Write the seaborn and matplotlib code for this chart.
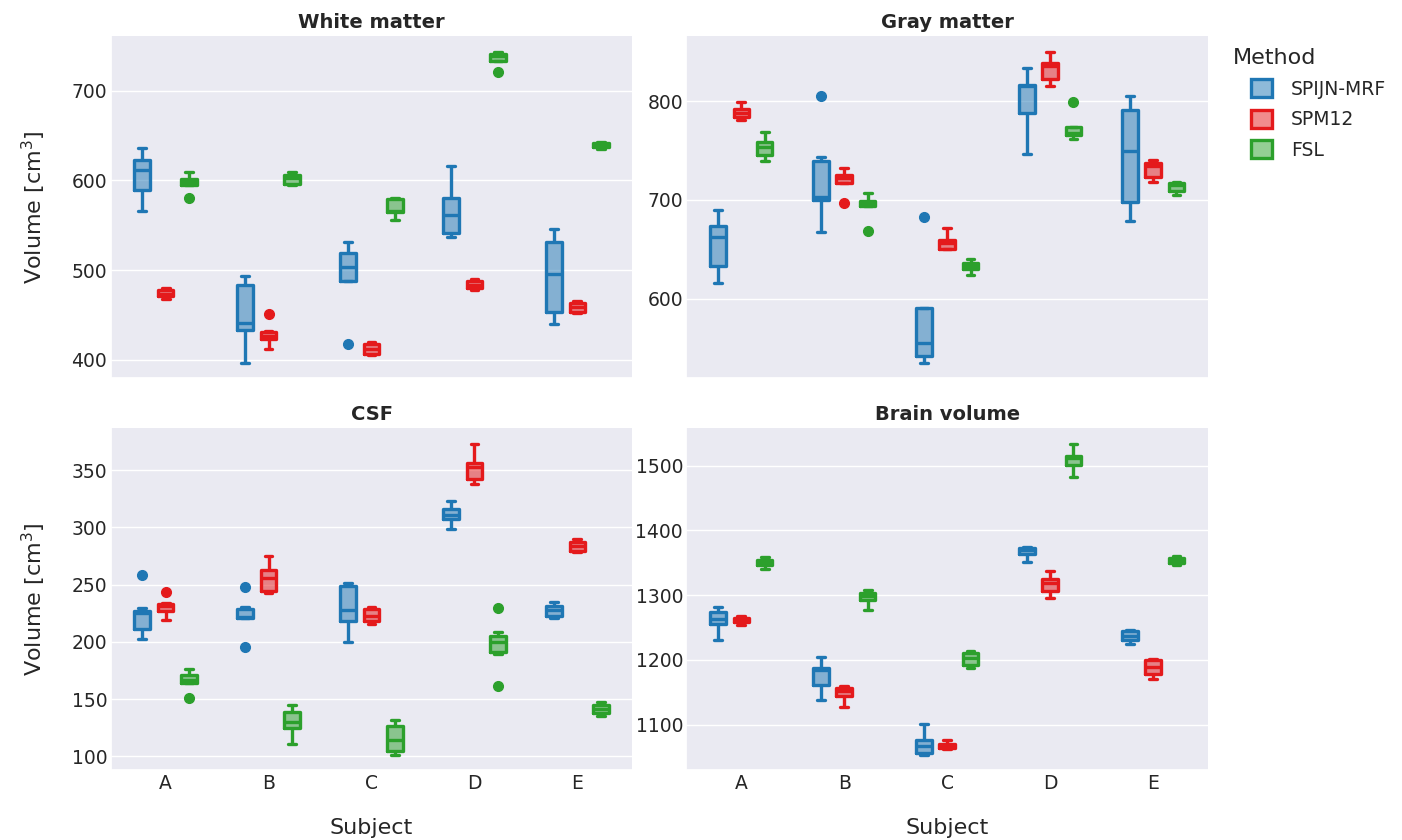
# Tissue volumes per subject and segmentation method

import pandas as pd
import matplotlib.pyplot as plt
import matplotlib.ticker as mticker
import seaborn as sns

subjects = ["A", "B", "C", "D", "E"]
methods = ["SPIJN-MRF", "SPM12", "FSL"]
tissues = ["White matter", "Gray matter", "CSF", "Brain volume"]
colors = ["#1f77b4", "#e41a1c", "#2ca02c"]

# repeated scans per subject, one list per subject A..E
wm_spijn = [[566, 578, 589, 600, 612, 618, 623, 630, 636],
            [397, 420, 433, 437, 441, 462, 483, 489, 494],
            [418, 488, 488, 496, 504, 512, 519, 526, 532],
            [537, 540, 542, 552, 561, 571, 581, 598, 616],
            [440, 447, 454, 475, 496, 514, 532, 539, 546]]
wm_spm = [[468, 470, 471, 473, 474, 476, 478, 479, 480],
          [412, 418, 423, 425, 427, 429, 431, 432, 451],
          [405, 405, 406.5, 409, 412, 415, 417.5, 419, 420.5],
          [478.5, 479, 480, 482, 483.5, 486, 488, 489, 490.5],
          [452.5, 453.5, 454, 456, 458.5, 461, 463.5, 465, 466]]
wm_fsl = [[580, 595, 595.5, 597, 598, 600, 601.5, 605, 609],
          [595, 595.5, 596, 599, 603, 604.5, 606, 608, 609.5],
          [556, 560, 564.5, 565.5, 566.5, 572, 579, 579.5, 580],
          [720.5, 733.5, 733.5, 736, 738.5, 739.5, 740.5, 742, 743.5],
          [635, 636, 637, 638, 639.5, 640.5, 641.5, 642, 643]]

gm_spijn = [[616, 624, 633, 648, 662, 668, 673, 682, 690],
            [667, 684, 699.5, 701, 703, 720, 739, 743, 805.5],
            [535, 538, 542, 548, 554.5, 572, 590.5, 590.5, 683],
            [746.5, 768, 787.5, 801, 815, 816, 816.5, 825, 833],
            [679, 688, 697.5, 723, 749, 770, 790.5, 798, 805.5]]
gm_spm = [[781, 782.5, 784, 786, 788, 790, 791.5, 795, 799],
          [697, 717, 717, 719.5, 722, 724, 725.5, 729, 732],
          [650, 650, 650.5, 653.5, 656.5, 658, 659, 665, 671],
          [815.5, 819, 822.5, 829, 835, 837, 838.5, 844, 850],
          [718, 721, 723.5, 729, 734.5, 736, 737.5, 739, 740]]
gm_fsl = [[739, 742, 745.5, 749.5, 753.5, 756, 758.5, 764, 769],
          [668.5, 693.5, 693.5, 695, 696, 697.5, 699, 703, 707],
          [624, 627, 630, 631.5, 633, 634.5, 635.5, 638, 640],
          [762, 764, 765.5, 767, 768, 770, 773.5, 773.5, 799],
          [705, 707, 709, 712, 714.5, 715.5, 716.5, 717, 717.5]]

csf_spijn = [[202.5, 207, 211, 218, 225.5, 226, 227, 230, 258],
             [195.5, 221, 221.2, 221.6, 222, 226, 229, 230.5, 247.5],
             [199.5, 209, 218, 223, 228, 238, 248.5, 250, 251],
             [298.5, 302, 307, 309, 310.5, 313, 316, 319, 323],
             [221, 221.5, 222.5, 225, 227.5, 229.5, 231.5, 233.5, 235]]
csf_spm = [[219.5, 224, 227.3, 229.5, 231, 232, 233.2, 234, 243.5],
           [242.5, 243.5, 244.5, 251, 256, 260.5, 263, 269, 275],
           [215.5, 216.5, 218, 220.5, 223, 226, 228.5, 229.5, 230.5],
           [337.5, 339, 342, 348, 353, 355, 356, 364, 373],
           [278.5, 279, 279.5, 281.5, 283.5, 285.5, 287, 288.5, 290]]
csf_fsl = [[151, 164.5, 164.5, 166, 167, 169, 171, 174, 176.5],
           [111, 118, 124.5, 127, 130, 135, 138.5, 142, 145],
           [101.5, 102.5, 104.5, 110, 114.5, 121, 127, 130, 132],
           [161.5, 189, 191, 195, 200, 203, 205, 209, 229.5],
           [135.5, 136.5, 137.5, 139, 141, 143, 145, 146.5, 147.5]]

brain_spijn = [[1230.5, 1243, 1256, 1260, 1264, 1269, 1274, 1278, 1281.5],
               [1138, 1149, 1161, 1173, 1184, 1186, 1187.5, 1196, 1204.5],
               [1053.6, 1054, 1056, 1062, 1067, 1072, 1076.5, 1090, 1101.5],
               [1352, 1358, 1364, 1367, 1369.5, 1371, 1373, 1374, 1375],
               [1224, 1228, 1231.5, 1234, 1236.5, 1240, 1245, 1246, 1247]]
brain_spm = [[1254, 1255.5, 1258.5, 1260, 1262, 1263.5, 1265, 1267, 1268.5],
             [1128, 1136, 1144.5, 1148, 1151.5, 1154, 1156, 1158, 1160],
             [1062, 1062.5, 1064.5, 1066, 1067.5, 1069, 1070.5, 1074, 1077],
             [1295.5, 1300, 1306.5, 1313, 1319, 1322, 1325, 1331, 1338],
             [1170.5, 1173, 1178, 1183, 1189, 1194, 1199.5, 1200.5, 1201.5]]
brain_fsl = [[1341, 1344, 1347, 1349, 1351, 1353, 1354.5, 1357, 1359.5],
             [1277, 1284, 1292.5, 1296, 1299.5, 1301.5, 1303, 1306, 1308.5],
             [1187.5, 1189, 1192.5, 1198, 1203.5, 1207, 1211, 1213, 1214],
             [1483, 1491, 1501, 1506, 1511.5, 1513, 1514.5, 1524, 1534],
             [1347, 1348.5, 1350.5, 1352, 1354, 1355.5, 1357.5, 1359, 1360]]

series = {
    "White matter": [wm_spijn, wm_spm, wm_fsl],
    "Gray matter": [gm_spijn, gm_spm, gm_fsl],
    "CSF": [csf_spijn, csf_spm, csf_fsl],
    "Brain volume": [brain_spijn, brain_spm, brain_fsl],
}

# long format table for seaborn
rows = []
for tissue in tissues:
    for method, per_subject in zip(methods, series[tissue]):
        for subj, vals in zip(subjects, per_subject):
            for v in vals:
                rows.append({"Tissue": tissue, "Method": method,
                             "Subject": subj, "Volume": v})
df = pd.DataFrame(rows)

sns.set_theme(style="darkgrid")

g = sns.catplot(data=df, x="Subject", y="Volume", hue="Method",
                col="Tissue", col_wrap=2, col_order=tissues,
                order=subjects, hue_order=methods, kind="box",
                sharey=False, palette=colors, fill=False,
                width=0.68, gap=0.33, linewidth=2.4,
                flierprops=dict(marker="o", markersize=7),
                height=4, aspect=1.5)

g.figure.set_size_inches(14.02, 8.4)
g.figure.subplots_adjust(left=0.079, right=0.8616, top=0.957, bottom=0.083,
                         wspace=0.104, hspace=0.146)

g.set_titles("{col_name}", fontweight="bold", size=14)
g.set_axis_labels("Subject", "Volume [cm$^3$]")

for ax in g.axes.flat:
    # light fill inside each box outline
    for line in list(ax.lines):
        if line.get_marker() == "o":
            line.set_markerfacecolor(line.get_markeredgecolor())
        elif len(line.get_xdata()) == 5:
            ax.fill(line.get_xdata(), line.get_ydata(),
                    color=line.get_color(), alpha=0.5, lw=0, zorder=1.5)
    ax.tick_params(labelsize=13.5, pad=2.5, length=0)
    ax.xaxis.label.set_size(16)
    ax.yaxis.label.set_size(16)
    ax.xaxis.labelpad = 18
    ax.yaxis.labelpad = 17

for name in ["White matter", "Gray matter"]:
    g.axes_dict[name].yaxis.set_major_locator(mticker.MultipleLocator(100))

sns.move_legend(g, "upper left", bbox_to_anchor=(0.8806, 0.963),
                frameon=False, fontsize=13.5, title_fontsize=16,
                handlelength=1.1, handleheight=1.1, labelspacing=0.6,
                handletextpad=1.0)
leg = g.legend
leg._legend_box.align = "left"
leg.get_title().set_position((-19, 0))
for h in leg.legend_handles:
    ec = h.get_edgecolor()
    h.set_facecolor((ec[0], ec[1], ec[2], 0.5))
    h.set_linewidth(2.4)

plt.savefig("out.png", dpi=100)
